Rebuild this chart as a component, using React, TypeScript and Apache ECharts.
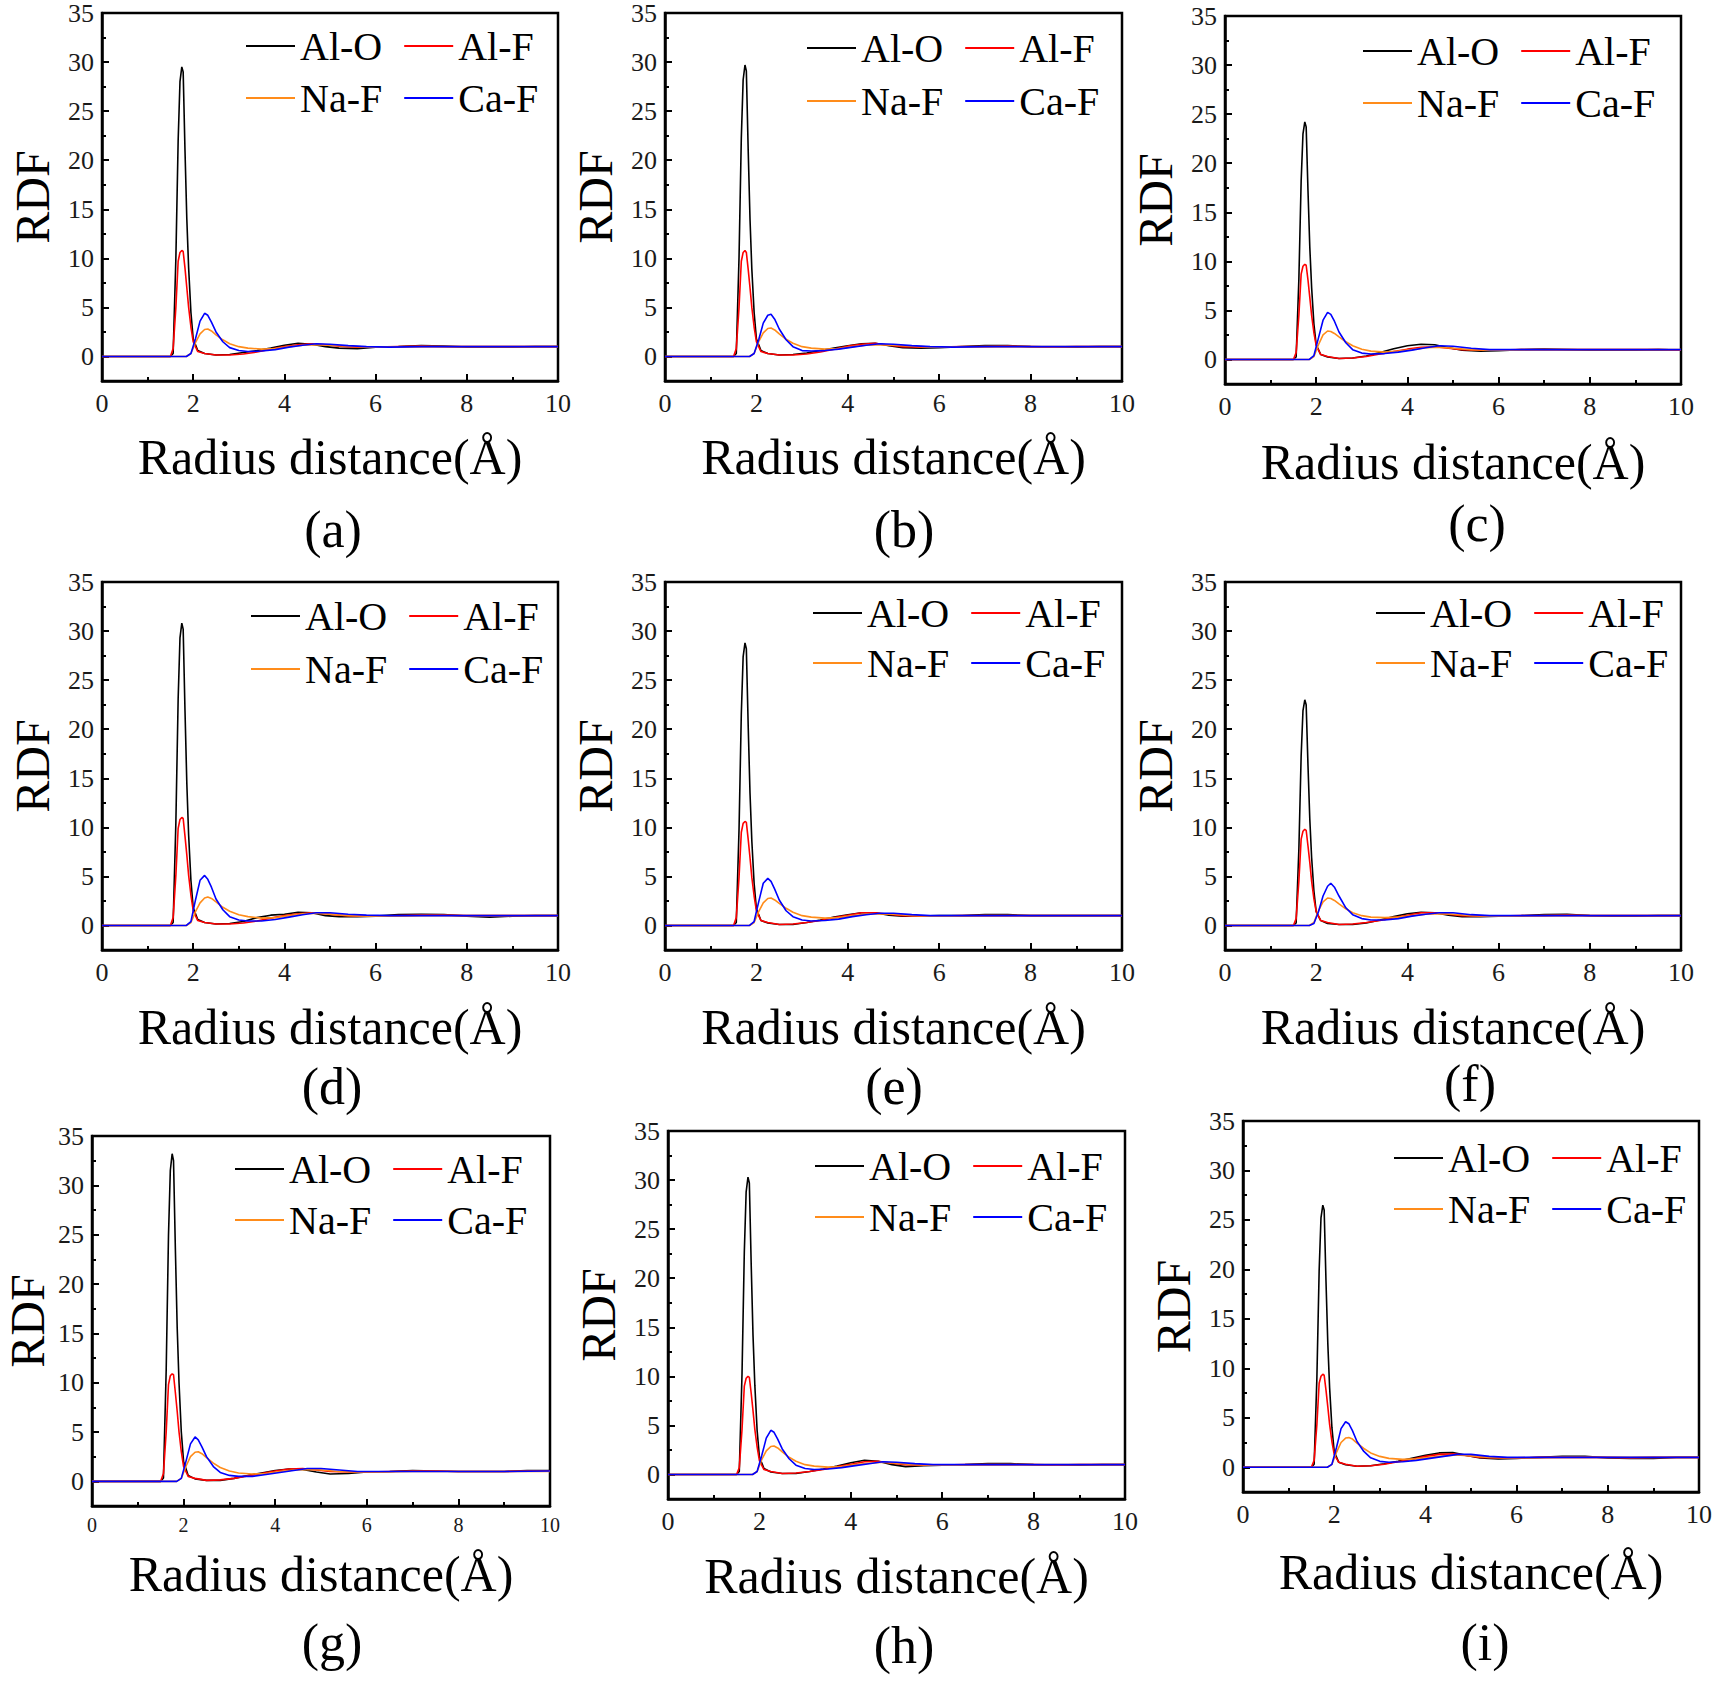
import React, { useEffect, useRef } from "react";
import * as echarts from "echarts";

// ---------- DATA ----------
const R_AL = [0, 1.5, 1.56, 1.62, 1.67, 1.71, 1.75, 1.78, 1.82, 1.86, 1.9, 1.95, 2.0, 2.1, 2.25, 2.5, 2.8, 3.1, 3.4, 3.7, 4.0, 4.3, 4.6, 4.9, 5.2, 5.6, 6.0, 6.5, 7.0, 7.5, 8.0, 8.5, 9.0, 9.5, 10];
const R_F = [0, 1.85, 1.95, 2.05, 2.15, 2.25, 2.32, 2.4, 2.5, 2.65, 2.8, 3.0, 3.2, 3.5, 3.8, 4.1, 4.4, 4.7, 5.0, 5.4, 5.8, 6.3, 7.0, 7.5, 8.0, 9.0, 10];

const X_TICKS = [0, 2, 4, 6, 8, 10];
const Y_TICKS = [0, 5, 10, 15, 20, 25, 30, 35];
const Y_MINOR = [2.5, 7.5, 12.5, 17.5, 22.5, 27.5, 32.5];
const SERIES_NAMES = ["Al-O", "Al-F", "Na-F", "Ca-F"];
const PANEL_LABELS = ["(a)", "(b)", "(c)", "(d)", "(e)", "(f)", "(g)", "(h)", "(i)"];

const ALO_A = [0, 0, 0.3, 10, 22, 28, 29.5, 29, 21, 14, 9, 4.5, 1.8, 0.6, 0.3, 0.15, 0.2, 0.4, 0.6, 0.85, 1.15, 1.35, 1.25, 1.0, 0.85, 0.8, 0.95, 1.0, 1.1, 1.05, 0.95, 0.95, 0.95, 1.0, 1.0];
const ALO_B = [0, 0, 0.3, 10.1, 22.3, 28.2, 29.7, 29.1, 21.1, 14, 8.9, 4.5, 1.8, 0.6, 0.3, 0.15, 0.2, 0.35, 0.6, 0.85, 1.1, 1.3, 1.35, 1.1, 0.9, 0.85, 0.9, 1.0, 1.1, 1.1, 1.0, 0.95, 0.95, 1.0, 1.0];
const ALO_C = [0, 0, 0.25, 8.2, 18.2, 23, 24.2, 23.7, 17.2, 11.4, 7.3, 3.6, 1.5, 0.5, 0.25, 0.1, 0.15, 0.35, 0.7, 1.1, 1.4, 1.55, 1.5, 1.2, 0.95, 0.85, 0.9, 1.0, 1.05, 1.0, 0.95, 0.95, 0.95, 1.0, 0.95];
const ALO_D = [0, 0, 0.3, 10.5, 23.1, 29.3, 30.8, 30.2, 21.9, 14.5, 9.2, 4.6, 1.8, 0.6, 0.3, 0.15, 0.2, 0.4, 0.8, 1.05, 1.15, 1.35, 1.3, 1.0, 0.9, 0.9, 0.95, 1.1, 1.15, 1.1, 0.95, 0.85, 0.95, 1.0, 1.0];
const ALO_E = [0, 0, 0.3, 9.8, 21.6, 27.4, 28.8, 28.2, 20.4, 13.5, 8.6, 4.3, 1.7, 0.5, 0.25, 0.1, 0.1, 0.3, 0.55, 0.85, 1.1, 1.3, 1.3, 1.05, 0.95, 0.95, 1.0, 1.0, 1.1, 1.1, 1.0, 1.0, 1.0, 1.0, 1.0];
const ALO_F = [0, 0, 0.25, 7.8, 17.3, 21.9, 23.0, 22.5, 16.3, 10.8, 6.9, 3.5, 1.4, 0.5, 0.2, 0.1, 0.1, 0.25, 0.55, 0.9, 1.2, 1.35, 1.3, 1.05, 0.9, 0.9, 0.95, 1.0, 1.1, 1.15, 1.0, 0.95, 0.95, 1.0, 1.0];
const ALO_G = [0, 0, 0.35, 11.3, 24.9, 31.5, 33.2, 32.5, 23.6, 15.6, 10, 5, 2, 0.6, 0.25, 0.1, 0.1, 0.3, 0.6, 0.85, 1.1, 1.25, 1.2, 0.95, 0.75, 0.8, 0.95, 1.0, 1.1, 1.05, 1.0, 1.0, 1.0, 1.1, 1.1];
const ALO_H = [0, 0, 0.3, 10.3, 22.7, 28.8, 30.3, 29.7, 21.5, 14.2, 9.1, 4.5, 1.8, 0.6, 0.25, 0.1, 0.1, 0.3, 0.55, 0.85, 1.2, 1.45, 1.35, 1.0, 0.8, 0.9, 0.95, 1.0, 1.1, 1.1, 1.0, 0.95, 0.95, 1.0, 1.0];
const ALO_I = [0, 0, 0.3, 9, 19.9, 25.2, 26.5, 26, 18.8, 12.5, 8, 4, 1.6, 0.5, 0.25, 0.1, 0.15, 0.35, 0.6, 0.9, 1.2, 1.45, 1.5, 1.2, 0.95, 0.85, 0.9, 1.0, 1.1, 1.1, 0.95, 0.9, 0.9, 1.0, 1.0];

const ALF_A = [0, 0, 0.8, 5, 9.7, 10.6, 10.8, 10.7, 9, 7, 5, 3, 1.5, 0.5, 0.3, 0.15, 0.15, 0.25, 0.45, 0.75, 1.0, 1.2, 1.3, 1.2, 1.05, 0.95, 0.95, 1.0, 1.05, 1.0, 1.0, 1.0, 1.0, 1.0, 1.0];
const ALF_B = [0, 0, 0.8, 5, 9.7, 10.6, 10.8, 10.6, 8.9, 7, 5, 3, 1.5, 0.5, 0.3, 0.15, 0.15, 0.25, 0.45, 0.75, 1.05, 1.25, 1.35, 1.15, 1.0, 0.95, 0.95, 1.0, 1.0, 1.05, 1.0, 0.95, 1.0, 1.0, 1.0];
const ALF_C = [0, 0, 0.7, 4.5, 8.7, 9.5, 9.7, 9.6, 8.1, 6.3, 4.5, 2.7, 1.4, 0.5, 0.3, 0.1, 0.15, 0.3, 0.55, 0.8, 1.05, 1.25, 1.3, 1.15, 1.0, 0.95, 0.95, 1.0, 1.0, 1.0, 1.0, 1.0, 1.0, 1.0, 0.95];
const ALF_D = [0, 0, 0.8, 5.1, 9.9, 10.8, 11.0, 10.9, 9.1, 7.2, 5.1, 3.1, 1.5, 0.5, 0.3, 0.15, 0.15, 0.25, 0.45, 0.75, 1.0, 1.2, 1.3, 1.2, 1.05, 0.95, 0.95, 1.0, 1.05, 1.05, 1.0, 1.0, 1.0, 1.0, 1.0];
const ALF_E = [0, 0, 0.8, 4.9, 9.5, 10.4, 10.6, 10.5, 8.8, 6.9, 4.9, 3, 1.5, 0.5, 0.3, 0.1, 0.15, 0.3, 0.5, 0.8, 1.05, 1.3, 1.3, 1.15, 1.0, 0.95, 0.95, 1.0, 1.0, 1.0, 1.0, 1.0, 1.0, 1.0, 1.0];
const ALF_F = [0, 0, 0.7, 4.5, 8.8, 9.6, 9.8, 9.7, 8.1, 6.4, 4.5, 2.7, 1.4, 0.5, 0.3, 0.1, 0.15, 0.3, 0.5, 0.8, 1.05, 1.3, 1.3, 1.15, 1.0, 0.95, 0.95, 1.0, 1.0, 1.05, 1.0, 1.0, 1.0, 1.0, 1.0];
const ALF_G = [0, 0, 0.8, 5, 9.8, 10.7, 10.9, 10.8, 9, 7.1, 5, 3, 1.5, 0.5, 0.3, 0.1, 0.15, 0.3, 0.55, 0.8, 1.05, 1.25, 1.3, 1.15, 1.0, 0.95, 0.95, 1.0, 1.05, 1.05, 1.0, 1.0, 1.0, 1.05, 1.05];
const ALF_H = [0, 0, 0.7, 4.6, 9, 9.8, 10.0, 9.9, 8.3, 6.5, 4.6, 2.8, 1.4, 0.5, 0.3, 0.1, 0.15, 0.3, 0.5, 0.8, 1.05, 1.3, 1.35, 1.15, 1.0, 0.95, 0.95, 1.0, 1.0, 1.0, 1.0, 0.95, 1.0, 1.0, 1.0];
const ALF_I = [0, 0, 0.7, 4.3, 8.5, 9.2, 9.4, 9.3, 7.8, 6.1, 4.3, 2.6, 1.3, 0.5, 0.3, 0.1, 0.15, 0.3, 0.55, 0.8, 1.1, 1.3, 1.35, 1.2, 1.0, 0.95, 0.95, 1.0, 1.0, 1.0, 1.0, 0.95, 1.0, 1.0, 1.0];

const NAF_A = [0, 0, 0.3, 1.4, 2.3, 2.75, 2.8, 2.6, 2.2, 1.7, 1.3, 1.0, 0.85, 0.75, 0.8, 1.0, 1.15, 1.2, 1.15, 1.05, 0.95, 0.95, 1.0, 1.0, 1.0, 1.0, 1.0];
const NAF_B = [0, 0, 0.3, 1.5, 2.4, 2.85, 2.9, 2.7, 2.3, 1.75, 1.35, 1.0, 0.85, 0.75, 0.8, 1.0, 1.15, 1.2, 1.15, 1.05, 0.95, 0.95, 1.0, 1.0, 1.0, 1.0, 1.0];
const NAF_C = [0, 0, 0.3, 1.5, 2.5, 2.9, 2.85, 2.65, 2.3, 1.8, 1.4, 1.05, 0.85, 0.75, 0.85, 1.0, 1.2, 1.25, 1.15, 1.0, 0.95, 0.95, 1.0, 1.0, 1.0, 1.0, 1.0];
const NAF_D = [0, 0, 0.3, 1.4, 2.3, 2.8, 2.9, 2.75, 2.4, 1.85, 1.45, 1.1, 0.9, 0.75, 0.8, 1.0, 1.2, 1.25, 1.15, 1.0, 0.95, 0.95, 1.0, 1.0, 1.0, 1.0, 1.0];
const NAF_E = [0, 0, 0.3, 1.4, 2.3, 2.75, 2.8, 2.6, 2.25, 1.75, 1.35, 1.0, 0.85, 0.75, 0.8, 1.0, 1.15, 1.2, 1.15, 1.0, 0.95, 0.95, 1.0, 1.0, 1.0, 1.0, 1.0];
const NAF_F = [0, 0, 0.3, 1.5, 2.4, 2.8, 2.75, 2.55, 2.2, 1.7, 1.3, 1.0, 0.85, 0.8, 0.85, 1.0, 1.15, 1.2, 1.15, 1.0, 0.95, 0.95, 1.0, 1.0, 1.0, 1.0, 1.0];
const NAF_G = [0, 0, 0.3, 1.5, 2.5, 2.95, 3.0, 2.8, 2.4, 1.85, 1.4, 1.05, 0.85, 0.75, 0.8, 1.0, 1.15, 1.2, 1.15, 1.0, 0.95, 0.95, 1.0, 1.0, 1.0, 1.0, 1.0];
const NAF_H = [0, 0, 0.3, 1.5, 2.4, 2.85, 2.9, 2.7, 2.3, 1.75, 1.35, 1.0, 0.85, 0.75, 0.8, 1.0, 1.15, 1.25, 1.15, 1.0, 0.95, 0.95, 1.0, 1.0, 1.0, 1.0, 1.0];
const NAF_I = [0, 0, 0.3, 1.5, 2.5, 2.95, 3.0, 2.85, 2.45, 1.9, 1.45, 1.1, 0.9, 0.8, 0.85, 1.0, 1.15, 1.25, 1.15, 1.0, 0.95, 0.95, 1.0, 1.0, 1.0, 1.0, 1.0];

const CAF_A = [0, 0, 0.3, 1.8, 3.6, 4.4, 4.2, 3.5, 2.5, 1.5, 0.9, 0.6, 0.5, 0.55, 0.7, 0.95, 1.15, 1.3, 1.25, 1.1, 1.0, 0.95, 1.0, 1.0, 1.0, 1.0, 1.0];
const CAF_B = [0, 0, 0.3, 1.7, 3.4, 4.2, 4.3, 3.8, 2.8, 1.7, 1.0, 0.6, 0.55, 0.6, 0.75, 0.95, 1.15, 1.3, 1.25, 1.1, 1.0, 0.95, 1.0, 1.0, 1.0, 1.0, 1.0];
const CAF_C = [0, 0, 0.4, 2.2, 4.0, 4.8, 4.6, 3.9, 2.8, 1.7, 1.0, 0.65, 0.55, 0.6, 0.75, 0.95, 1.2, 1.4, 1.35, 1.15, 1.0, 1.0, 1.0, 1.0, 1.0, 1.0, 1.0];
const CAF_D = [0, 0, 0.4, 2.6, 4.6, 5.1, 4.7, 3.9, 2.7, 1.6, 0.9, 0.55, 0.45, 0.45, 0.6, 0.85, 1.1, 1.3, 1.3, 1.15, 1.05, 1.0, 1.0, 1.0, 1.0, 1.0, 1.0];
const CAF_E = [0, 0, 0.4, 2.4, 4.3, 4.8, 4.5, 3.7, 2.6, 1.5, 0.9, 0.55, 0.45, 0.5, 0.65, 0.9, 1.1, 1.25, 1.25, 1.1, 1.0, 1.0, 1.0, 1.0, 1.0, 1.0, 1.0];
const CAF_F = [0, 0, 0.2, 1.4, 3.0, 4.0, 4.3, 3.9, 3.0, 1.8, 1.1, 0.7, 0.55, 0.55, 0.7, 0.95, 1.15, 1.3, 1.3, 1.1, 1.0, 1.0, 1.0, 1.0, 1.0, 1.0, 1.0];
const CAF_G = [0, 0, 0.3, 2.0, 3.8, 4.5, 4.2, 3.5, 2.5, 1.5, 0.9, 0.6, 0.5, 0.5, 0.7, 0.9, 1.1, 1.3, 1.3, 1.15, 1.0, 1.0, 1.0, 1.0, 1.0, 1.0, 1.05];
const CAF_H = [0, 0, 0.3, 1.9, 3.7, 4.5, 4.3, 3.6, 2.6, 1.6, 0.95, 0.6, 0.5, 0.55, 0.7, 0.9, 1.1, 1.3, 1.25, 1.1, 1.0, 1.0, 1.0, 1.0, 1.0, 1.0, 1.0];
const CAF_I = [0, 0, 0.3, 2.0, 3.9, 4.6, 4.4, 3.7, 2.6, 1.6, 0.95, 0.6, 0.5, 0.55, 0.7, 0.9, 1.1, 1.3, 1.3, 1.1, 1.0, 1.0, 1.0, 1.0, 1.0, 1.0, 1.0];

const PANEL_DATA = [
  [ALO_A, ALF_A, NAF_A, CAF_A],
  [ALO_B, ALF_B, NAF_B, CAF_B],
  [ALO_C, ALF_C, NAF_C, CAF_C],
  [ALO_D, ALF_D, NAF_D, CAF_D],
  [ALO_E, ALF_E, NAF_E, CAF_E],
  [ALO_F, ALF_F, NAF_F, CAF_F],
  [ALO_G, ALF_G, NAF_G, CAF_G],
  [ALO_H, ALF_H, NAF_H, CAF_H],
  [ALO_I, ALF_I, NAF_I, CAF_I],
];

// ---------- LAYOUT / STYLE ----------
const W = 1716;
const H = 1682;
const FONT = "'Liberation Serif', 'Times New Roman', serif";
const COLORS = ["#000000", "#ff0000", "#ff8c1a", "#0000ff"];

const LAYOUT = [
  { left: 102, top: 13, width: 456, height: 368, lgLeft: 246, lgTop: [26, 78], lx: 333, ly: 529, gapX: 51, gapY: 46, xFs: 26 },
  { left: 665, top: 13, width: 457, height: 368, lgLeft: 807, lgTop: [28, 81], lx: 904, ly: 529, gapX: 51, gapY: 46, xFs: 26 },
  { left: 1225, top: 16, width: 456, height: 368, lgLeft: 1363, lgTop: [31, 83], lx: 1477, ly: 523, gapX: 53, gapY: 46, xFs: 26 },
  { left: 102, top: 582, width: 456, height: 368, lgLeft: 251, lgTop: [596, 649], lx: 332, ly: 1086, gapX: 52, gapY: 46, xFs: 26 },
  { left: 665, top: 582, width: 457, height: 368, lgLeft: 813, lgTop: [593, 643], lx: 894, ly: 1086, gapX: 52, gapY: 46, xFs: 26 },
  { left: 1225, top: 582, width: 456, height: 368, lgLeft: 1376, lgTop: [593, 643], lx: 1470, ly: 1083, gapX: 52, gapY: 46, xFs: 26 },
  { left: 92, top: 1136, width: 458, height: 370, lgLeft: 235, lgTop: [1149, 1200], lx: 332, ly: 1642, gapX: 43, gapY: 41, xFs: 20 },
  { left: 668, top: 1131, width: 457, height: 368, lgLeft: 815, lgTop: [1146, 1197], lx: 904, ly: 1645, gapX: 52, gapY: 46, xFs: 26 },
  { left: 1243, top: 1121, width: 456, height: 371, lgLeft: 1394, lgTop: [1138, 1189], lx: 1485, ly: 1642, gapX: 55, gapY: 46, xFs: 26 },
];

function buildOption() {
  const lineStyle = { color: "#000", width: 2.5 };
  const grid: any[] = [];
  const xAxis: any[] = [];
  const yAxis: any[] = [];
  const series: any[] = [];
  const legend: any[] = [];
  const graphic: any[] = [];

  LAYOUT.forEach((L, i) => {
    grid.push({
      left: L.left,
      top: L.top,
      width: L.width,
      height: L.height,
      show: true,
      borderColor: "#000",
      borderWidth: 2.5,
      backgroundColor: "transparent",
      outerBoundsMode: "none",
      containLabel: false,
    });
    xAxis.push({
      type: "value",
      gridIndex: i,
      position: "bottom",
      min: X_TICKS[0],
      max: X_TICKS[X_TICKS.length - 1],
      interval: 2,
      axisLine: { show: true, onZero: false, lineStyle },
      axisTick: { show: true, inside: true, length: 7, lineStyle: { color: "#000", width: 2 } },
      minorTick: { show: true, splitNumber: 2, length: 4, lineStyle: { color: "#000", width: 2 } },
      splitLine: { show: false },
      minorSplitLine: { show: false },
      axisLabel: { fontSize: L.xFs, fontFamily: FONT, color: "#1a1a1a", margin: 9, showMinLabel: true, showMaxLabel: true },
      name: "Radius distance(Å)",
      nameLocation: "middle",
      nameGap: L.gapX,
      nameTextStyle: { fontSize: 50, fontFamily: FONT, color: "#000" },
    });
    yAxis.push({
      type: "value",
      gridIndex: i,
      position: "left",
      min: -2.5,
      max: 35,
      axisLine: { show: true, onZero: false, lineStyle },
      axisTick: { show: true, inside: true, length: 7, customValues: Y_TICKS, lineStyle: { color: "#000", width: 2 } },
      axisLabel: { customValues: Y_TICKS, fontSize: 26, fontFamily: FONT, color: "#1a1a1a", margin: 8 },
      splitLine: { show: false },
      name: "RDF",
      nameLocation: "middle",
      nameGap: L.gapY,
      nameTextStyle: { fontSize: 48, fontFamily: FONT, color: "#000" },
    });
    yAxis.push({
      type: "value",
      gridIndex: i,
      position: "left",
      offset: 0,
      min: -2.5,
      max: 35,
      axisLine: { show: false },
      axisTick: { show: true, inside: true, length: 4, customValues: Y_MINOR, lineStyle: { color: "#000", width: 2 } },
      axisLabel: { show: false },
      splitLine: { show: false },
    });

    PANEL_DATA[i].forEach((vals, k) => {
      const xs = k < 2 ? R_AL : R_F;
      series.push({
        type: "line",
        name: SERIES_NAMES[k],
        xAxisIndex: i,
        yAxisIndex: 2 * i,
        data: xs.map((x, j) => [x, vals[j]]),
        symbol: "none",
        showSymbol: false,
        smooth: false,
        silent: true,
        lineStyle: { color: COLORS[k], width: 1.6 },
        itemStyle: { color: COLORS[k] },
        z: 2 + k,
      });
    });

    [0, 1].forEach((row) => {
      legend.push({
        data: SERIES_NAMES.slice(row * 2, row * 2 + 2),
        left: L.lgLeft,
        top: L.lgTop[row],
        orient: "horizontal",
        icon: "rect",
        itemWidth: 49,
        itemHeight: 2,
        itemGap: 22,
        padding: 0,
        selectedMode: false,
        textStyle: { fontSize: 40, fontFamily: FONT, color: "#000", lineHeight: 40 },
      });
    });

    graphic.push({
      type: "text",
      x: L.lx,
      y: L.ly,
      style: {
        text: PANEL_LABELS[i],
        fontSize: 52,
        fontFamily: FONT,
        fill: "#000",
        align: "center",
        verticalAlign: "middle",
      },
    });
  });

  return {
    animation: false,
    backgroundColor: "#ffffff",
    textStyle: { fontFamily: FONT },
    grid,
    xAxis,
    yAxis,
    series,
    legend,
    graphic,
  };
}

export default function App() {
  const ref = useRef<HTMLDivElement>(null);
  useEffect(() => {
    document.body.style.margin = "0";
    if (!ref.current) return;
    const chart = echarts.init(ref.current, null, { renderer: "svg", width: W, height: H });
    chart.setOption(buildOption() as any);
    return () => chart.dispose();
  }, []);
  return <div ref={ref} style={{ width: W, height: H, background: "#fff" }} />;
}
